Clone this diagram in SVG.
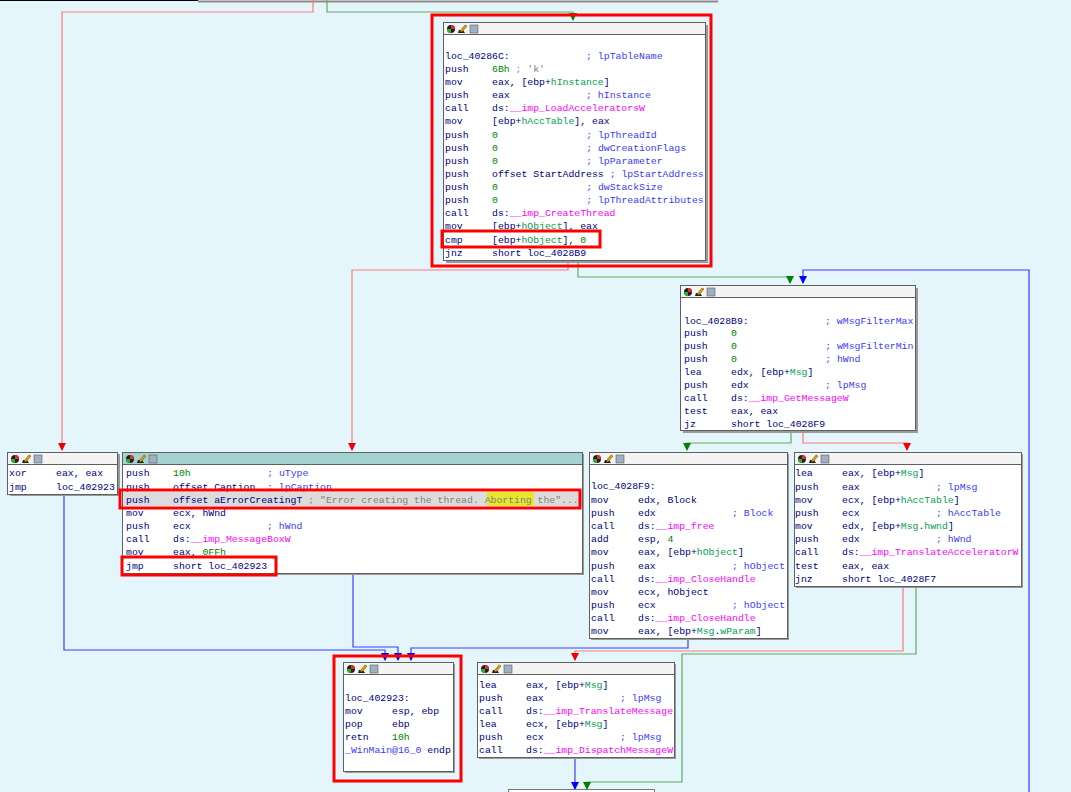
<svg xmlns="http://www.w3.org/2000/svg" width="1071" height="792" viewBox="0 0 1071 792">
<style>
text{font-family:"Liberation Mono","DejaVu Sans Mono",monospace;font-size:9.8px;fill:#000080;white-space:pre}
.c{fill:#3a3aff}.m{fill:#ff00ff}.g{fill:#008000}.n{fill:#00a050}.s{fill:#808080}.hl{fill:#e0e000}
.box{fill:#fff;stroke:#606060;stroke-width:1}
.sh{fill:#9a9a9a}
.hdr{fill:#f4f4f4;stroke:#606060;stroke-width:1}
.red{fill:none;stroke:#ff0000;stroke-width:3}
.er{fill:none;stroke:#ff7a7a;stroke-width:1.2}
.eg{fill:none;stroke:#5fae5f;stroke-width:1.2}
.eb{fill:none;stroke:#3c3cff;stroke-width:1.2}
</style>
<defs>
<marker id="ar" markerWidth="8" markerHeight="8" refX="4" refY="7" orient="auto-start-reverse" markerUnits="userSpaceOnUse" viewBox="0 0 8 8"><path d="M0,0 L8,0 L4,8 Z" fill="#ee0000" transform="rotate(-90 4 4)"/></marker>
<marker id="ag" markerWidth="8" markerHeight="8" refX="7" refY="4" orient="auto" markerUnits="userSpaceOnUse" viewBox="0 0 8 8"><path d="M0,0 L8,4 L0,8 Z" fill="#008000"/></marker>
<marker id="arr" markerWidth="8" markerHeight="8" refX="7" refY="4" orient="auto" markerUnits="userSpaceOnUse" viewBox="0 0 8 8"><path d="M0,0 L8,4 L0,8 Z" fill="#ee0000"/></marker>
<marker id="ab" markerWidth="8" markerHeight="8" refX="7" refY="4" orient="auto" markerUnits="userSpaceOnUse" viewBox="0 0 8 8"><path d="M0,0 L8,4 L0,8 Z" fill="#0000ff"/></marker>
<g id="icons">
<circle cx="6" cy="6" r="4" fill="#202020"/><path d="M6,2 A4,4 0 0 1 10,6 L6,6Z" fill="#e03030"/><path d="M2,6 A4,4 0 0 0 6,10 L6,6Z" fill="#30b030"/>
<path d="M13,10 L20,10 L18,7 L14,7Z" fill="#202020"/><path d="M15,8 L20,2 L22,3 L17,9Z" fill="#e0a000" stroke="#604000" stroke-width="0.5"/>
<rect x="25" y="2" width="8" height="8" fill="#a0b0c0" stroke="#506070" stroke-width="0.6"/>
</g>
</defs>
<rect width="1071" height="792" fill="#e4f6fc"/>
<rect x="198" y="0" width="520" height="3" fill="#ffffff"/>
<line x1="0" y1="0.5" x2="198" y2="0.5" stroke="#000"/>
<line x1="198" y1="1.5" x2="718" y2="1.5" stroke="#888" stroke-width="2"/>
<g id="connectors">
<polyline class="er" points="313,0 313,12 62,12 62,450" marker-end="url(#arr)"/>
<polyline class="eg" points="327,0 327,12 573,12 573,20" marker-end="url(#ag)"/>
<polyline class="er" points="568,260 568,270 352,270 352,450" marker-end="url(#arr)"/>
<polyline class="eg" points="578,260 578,277 790,277 790,283" marker-end="url(#ag)"/>
<polyline class="eb" points="1029,792 1029,270 803,270 803,283" marker-end="url(#ab)"/>
<polyline class="eg" points="791,430 791,443 687,443 687,450" marker-end="url(#ag)"/>
<polyline class="er" points="803,430 803,443 907,443 907,450" marker-end="url(#arr)"/>
<polyline class="eb" points="64,494 64,650 385,650 385,660" marker-end="url(#ab)"/>
<polyline class="eb" points="353,573 353,647 398,647 398,660" marker-end="url(#ab)"/>
<polyline class="eb" points="688,638 688,648 411,648 411,660" marker-end="url(#ab)"/>
<polyline class="er" points="903,586 903,651 575,651 575,660" marker-end="url(#arr)"/>
<polyline class="eg" points="916,586 916,654 682,654 682,782 587,782 587,789" marker-end="url(#ag)"/>
<polyline class="eb" points="575,757 575,789" marker-end="url(#ab)"/>
</g>
<g id="n40286C">
<rect class="sh" x="446" y="25" width="262" height="238"/>
<rect class="box" x="443.5" y="22.5" width="262" height="238"/>
<rect class="hdr" x="443.5" y="22.5" width="262" height="12"/>
<use href="#icons" x="445" y="23"/>
<text x="445" y="59">loc_40286C:             <tspan class="c">; lpTableName</tspan></text>
<text x="445" y="72">push    <tspan class="g">6Bh</tspan><tspan class="s"> ; 'k'</tspan></text>
<text x="445" y="85">mov     eax, [ebp+<tspan class="n">hInstance</tspan>]</text>
<text x="445" y="98">push    eax             <tspan class="c">; hInstance</tspan></text>
<text x="445" y="111">call    ds:<tspan class="m">__imp_LoadAcceleratorsW</tspan></text>
<text x="445" y="124">mov     [ebp+<tspan class="n">hAccTable</tspan>], eax</text>
<text x="445" y="138">push    <tspan class="g">0</tspan>               <tspan class="c">; lpThreadId</tspan></text>
<text x="445" y="151">push    <tspan class="g">0</tspan>               <tspan class="c">; dwCreationFlags</tspan></text>
<text x="445" y="164">push    <tspan class="g">0</tspan>               <tspan class="c">; lpParameter</tspan></text>
<text x="445" y="177">push    offset StartAddress <tspan class="c">; lpStartAddress</tspan></text>
<text x="445" y="190">push    <tspan class="g">0</tspan>               <tspan class="c">; dwStackSize</tspan></text>
<text x="445" y="203">push    <tspan class="g">0</tspan>               <tspan class="c">; lpThreadAttributes</tspan></text>
<text x="445" y="216">call    ds:<tspan class="m">__imp_CreateThread</tspan></text>
<text x="445" y="229">mov     [ebp+<tspan class="n">hObject</tspan>], eax</text>
<text x="445" y="243">cmp     [ebp+<tspan class="n">hObject</tspan>], <tspan class="g">0</tspan></text>
<text x="445" y="256">jnz     short loc_4028B9</text>
<rect class="red" x="432" y="15" width="279" height="251"/>
<rect class="red" x="442" y="231" width="158" height="16"/>
</g>
<g id="n4028B9">
<rect class="sh" x="683" y="288" width="235" height="145"/>
<rect class="box" x="680.5" y="285.5" width="235" height="145"/>
<rect class="hdr" x="680.5" y="285.5" width="235" height="12"/>
<use href="#icons" x="682" y="286"/>
<text x="684" y="324">loc_4028B9:             <tspan class="c">; wMsgFilterMax</tspan></text>
<text x="684" y="336">push    <tspan class="g">0</tspan></text>
<text x="684" y="349">push    <tspan class="g">0</tspan>               <tspan class="c">; wMsgFilterMin</tspan></text>
<text x="684" y="362">push    <tspan class="g">0</tspan>               <tspan class="c">; hWnd</tspan></text>
<text x="684" y="375">lea     edx, [ebp+<tspan class="n">Msg</tspan>]</text>
<text x="684" y="388">push    edx             <tspan class="c">; lpMsg</tspan></text>
<text x="684" y="401">call    ds:<tspan class="m">__imp_GetMessageW</tspan></text>
<text x="684" y="414">test    eax, eax</text>
<text x="684" y="427">jz      short loc_4028F9</text>
</g>
<g id="nxor">
<rect class="sh" x="10" y="454" width="110" height="42"/>
<rect class="box" x="7.5" y="452.5" width="110" height="42"/>
<rect class="hdr" x="7.5" y="452.5" width="110" height="12"/>
<use href="#icons" x="9" y="453"/>
<text x="9" y="476">xor     eax, eax</text>
<text x="9" y="490">jmp     loc_402923</text>
</g>
<g id="nmsgbox">
<rect class="sh" x="124" y="454" width="460" height="121"/>
<rect class="box" x="122.5" y="452.5" width="460" height="121"/>
<rect x="122.5" y="452.5" width="460" height="12" fill="#a4d2d0" stroke="#606060"/>
<use href="#icons" x="124" y="453"/>
<rect x="123" y="492" width="459" height="14" fill="#dcdcdc"/>
<rect x="487" y="492" width="47" height="14" fill="#e6e62a"/>
<text x="126" y="476">push    <tspan class="g">10h</tspan>             <tspan class="c">; uType</tspan></text>
<text x="126" y="490">push    offset Caption  <tspan class="c">; lpCaption</tspan></text>
<text x="126" y="503">push    offset aErrorCreatingT <tspan class="s">; "Error creating the thread. Aborting the"...</tspan></text>
<text x="126" y="516">mov     ecx, hWnd</text>
<text x="126" y="529">push    ecx             <tspan class="c">; hWnd</tspan></text>
<text x="126" y="542">call    ds:<tspan class="m">__imp_MessageBoxW</tspan></text>
<text x="126" y="555">mov     eax, <tspan class="g">0FFh</tspan></text>
<text x="126" y="569">jmp     short loc_402923</text>
<rect class="red" x="120" y="490" width="460" height="18"/>
<rect class="red" x="122" y="557" width="154" height="18"/>
</g>
<g id="n4028F9">
<rect class="sh" x="591" y="454" width="198" height="186"/>
<rect class="box" x="589.5" y="452.5" width="198" height="186"/>
<rect class="hdr" x="589.5" y="452.5" width="198" height="12"/>
<use href="#icons" x="591" y="453"/>
<text x="591" y="489">loc_4028F9:</text>
<text x="591" y="503">mov     edx, Block</text>
<text x="591" y="516">push    edx             <tspan class="c">; Block</tspan></text>
<text x="591" y="529">call    ds:<tspan class="m">__imp_free</tspan></text>
<text x="591" y="542">add     esp, <tspan class="g">4</tspan></text>
<text x="591" y="555">mov     eax, [ebp+<tspan class="n">hObject</tspan>]</text>
<text x="591" y="569">push    eax             <tspan class="c">; hObject</tspan></text>
<text x="591" y="582">call    ds:<tspan class="m">__imp_CloseHandle</tspan></text>
<text x="591" y="595">mov     ecx, hObject</text>
<text x="591" y="608">push    ecx             <tspan class="c">; hObject</tspan></text>
<text x="591" y="621">call    ds:<tspan class="m">__imp_CloseHandle</tspan></text>
<text x="591" y="634">mov     eax, [ebp+<tspan class="n">Msg</tspan>.<tspan class="n">wParam</tspan>]</text>
</g>
<g id="nTransAcc">
<rect class="sh" x="796" y="454" width="227" height="134"/>
<rect class="box" x="794.5" y="452.5" width="227" height="134"/>
<rect class="hdr" x="794.5" y="452.5" width="227" height="12"/>
<use href="#icons" x="796" y="453"/>
<text x="795" y="476">lea     eax, [ebp+<tspan class="n">Msg</tspan>]</text>
<text x="795" y="490">push    eax             <tspan class="c">; lpMsg</tspan></text>
<text x="795" y="503">mov     ecx, [ebp+<tspan class="n">hAccTable</tspan>]</text>
<text x="795" y="516">push    ecx             <tspan class="c">; hAccTable</tspan></text>
<text x="795" y="529">mov     edx, [ebp+<tspan class="n">Msg</tspan>.<tspan class="n">hwnd</tspan>]</text>
<text x="795" y="542">push    edx             <tspan class="c">; hWnd</tspan></text>
<text x="795" y="555">call    ds:<tspan class="m">__imp_TranslateAcceleratorW</tspan></text>
<text x="795" y="569">test    eax, eax</text>
<text x="795" y="582">jnz     short loc_4028F7</text>
</g>
<g id="n402923">
<rect class="sh" x="345" y="664" width="110" height="109"/>
<rect class="box" x="343.5" y="662.5" width="110" height="109"/>
<rect class="hdr" x="343.5" y="662.5" width="110" height="12"/>
<use href="#icons" x="345" y="663"/>
<text x="345" y="701">loc_402923:</text>
<text x="345" y="714">mov     esp, ebp</text>
<text x="345" y="727">pop     ebp</text>
<text x="345" y="740">retn    <tspan class="g">10h</tspan></text>
<text x="345" y="753"><tspan class="c">_WinMain@16_0</tspan> endp</text>
<rect class="red" x="334" y="656" width="127" height="125"/>
</g>
<g id="nTransMsg">
<rect class="sh" x="479" y="664" width="197" height="95"/>
<rect class="box" x="477.5" y="662.5" width="197" height="95"/>
<rect class="hdr" x="477.5" y="662.5" width="197" height="12"/>
<use href="#icons" x="479" y="663"/>
<text x="479" y="688">lea     eax, [ebp+<tspan class="n">Msg</tspan>]</text>
<text x="479" y="701">push    eax             <tspan class="c">; lpMsg</tspan></text>
<text x="479" y="714">call    ds:<tspan class="m">__imp_TranslateMessage</tspan></text>
<text x="479" y="727">lea     ecx, [ebp+<tspan class="n">Msg</tspan>]</text>
<text x="479" y="740">push    ecx             <tspan class="c">; lpMsg</tspan></text>
<text x="479" y="753">call    ds:<tspan class="m">__imp_DispatchMessageW</tspan></text>
</g>
<g id="nbottom">
<rect x="508.5" y="789.5" width="146" height="10" fill="#fff" stroke="#777"/>
</g>
</svg>
